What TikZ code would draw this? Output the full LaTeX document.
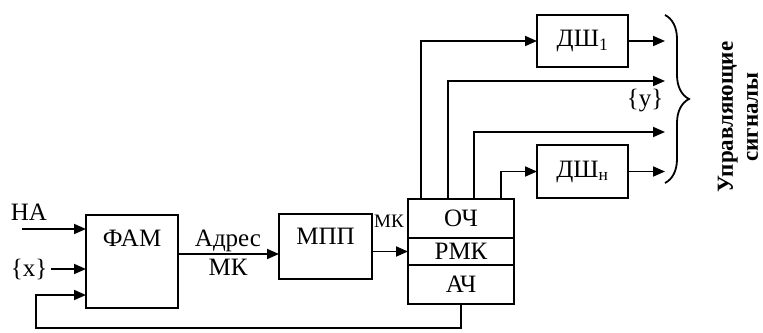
\documentclass[tikz,border=0pt]{standalone}
\usepackage{fontspec}
\setmainfont{Liberation Serif}
\usetikzlibrary{positioning,calc,arrows.meta,decorations.pathreplacing}
\tikzset{>={Triangle[length=12pt,width=10pt]}}

\begin{document}
\begin{tikzpicture}[
    x=1pt, y=-1pt,
    font=\fontsize{25}{28}\selectfont,
    line width=1.8pt,
    blok/.style={draw, minimum width=92pt, inner sep=0pt, outer sep=0pt},
    sloj/.style={draw, minimum width=106pt, inner sep=0pt, outer sep=0pt},
    lbl/.style={inner sep=0pt}
]
\useasboundingbox (0,0) rectangle (763,332);

% blocks
\node[blok, minimum height=93pt] (fam) at (132,261.5) {};
\node[lbl] (famtxt) at ([yshift=-23pt]fam.north) {ФАМ};
\node[blok, minimum width=93pt, minimum height=65pt] (mpp) at (325.5,246.5) {};
\node[lbl] (mpptxt) at ([yshift=-22pt]mpp.north) {МПП};
\node[sloj, minimum height=39pt] (och) at (461,218.5) {ОЧ};
\node[sloj, minimum height=27pt, below=0pt of och] (rmk) {РМК};
\node[sloj, minimum height=39pt, below=0pt of rmk] (ach) {АЧ};
\node[blok, minimum width=91pt, minimum height=52pt] (dsh1) at (582.5,41) {ДШ\textsubscript{1}};
\node[blok, minimum width=91pt, minimum height=53pt] (dshn) at (582.5,171.5) {ДШ\textsubscript{н}};

% inputs of FAM
\node[lbl] (na) at (29,212) {НА};
\coordinate (nastart) at (22,229);
\draw[->] (nastart) -- (nastart -| fam.west);
\node[lbl] (xin) at (29,269) {\{x\}};
\draw[->] ([xshift=3pt]xin.east) -- (xin.east -| fam.west);
\coordinate (fb) at (36,328);
\draw[->] (ach.south) |- (fb) |- ([yshift=13pt]fam.south west);

% address path
\draw[->] ([yshift=7.5pt]fam.east) -- ([yshift=7.5pt]fam.east -| mpp.west);
\node[lbl] (adr) at (228,241) {Адрес};
\node[lbl] (adrmk) at (228,267) {МК};
\draw[->] (mpp.east |- rmk.west) -- (rmk.west);
\node[lbl, font=\fontsize{19}{21}\selectfont] (mk) at (389,221) {МК};

% outputs of OCh
\coordinate (o1) at ($(och.north west)!0.125!(och.north east)$);
\coordinate (o2) at ($(och.north west)!0.375!(och.north east)$);
\coordinate (o3) at ($(och.north west)!0.625!(och.north east)$);
\coordinate (o4) at ($(och.north west)!0.875!(och.north east)$);
\coordinate (y2) at (665,81);
\coordinate (y3) at (665,132);
\draw[->] (o1) |- (dsh1.west);
\draw[->] (o2) |- (y2);
\draw[->] (o3) |- (y3);
\draw[->] (o4) |- (dshn.west);
\draw[->] (dsh1.east) -- (dsh1.east -| y2);
\draw[->] (dshn.east) -- (dshn.east -| y2);
\node[lbl] (ylbl) at (645,101) {\{y\}};

% brace
\coordinate (brtop) at (665,15);
\coordinate (brbot) at (665,183);
\draw[decorate, decoration={brace, amplitude=24pt}] (brtop) -- (brbot);
\node[lbl, rotate=90, align=center, font=\bfseries\fontsize{23}{25}\selectfont] (upr) at (738,117) {Управляющие\\сигналы};
\end{tikzpicture}
\end{document}
